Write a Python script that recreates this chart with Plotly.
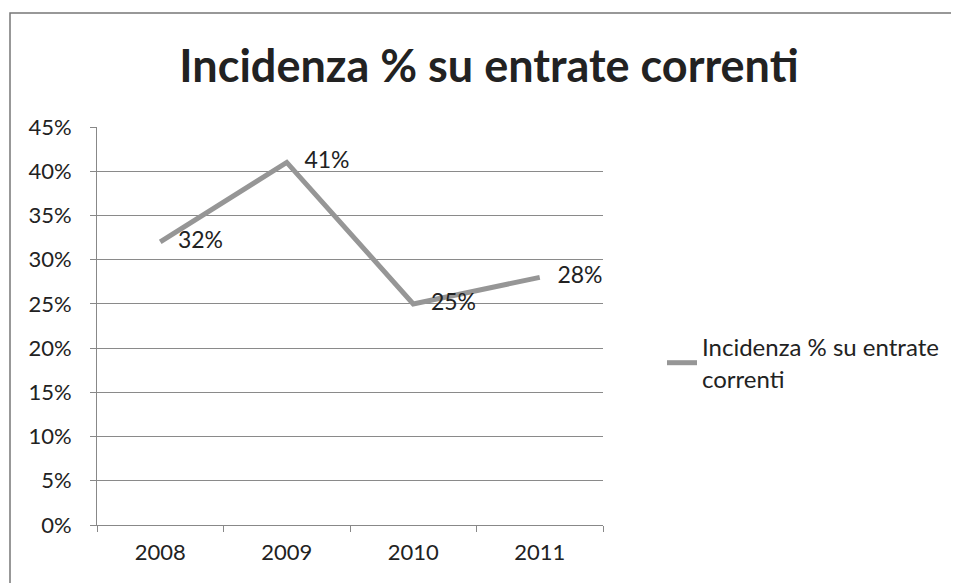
import plotly.graph_objects as go

years = ["2008", "2009", "2010", "2011"]
values = [0.32, 0.41, 0.25, 0.28]
labels = ["   32%", "   41%", "   25%", "   28%"]
series_name = "Incidenza % su entrate<br>correnti"
title_text = "<b>Incidenza % su entrate correnti</b>"

W, H = 959, 583
OFF = 8  # page body margin offset
# target screen pixel positions of the plot area
SL, SR, ST, SB = 97, 603, 127, 525
L = SL - OFF
T = ST - OFF
R = W - (SR - OFF)
B = H - (SB - OFF)

fig = go.Figure()
fig.add_trace(go.Scatter(
    x=years, y=values, mode="lines+text", name=series_name,
    text=labels, textposition="middle right",
    textfont=dict(size=23, color="#222"),
    line=dict(color="#969696", width=5),
    cliponaxis=False,
))

pw = SR - SL
ph = SB - ST
def px_x(p):
    return (p - SL) / pw
def px_y(p):
    return (SB - p) / ph

fig.update_layout(
    width=W, height=H,
    margin=dict(l=L, r=R, t=T, b=B),
    paper_bgcolor="white", plot_bgcolor="white",
    font=dict(family="Lato, 'Noto Sans', sans-serif", color="#222"),
    title=dict(text=title_text, x=(489 - OFF) / W, xanchor="center", y=1 - (66 - OFF) / H, yanchor="middle",
               font=dict(size=45, color="#222")),
    showlegend=True,
    legend=dict(x=px_x(662), y=px_y(325), xanchor="left", yanchor="top",
                font=dict(size=24, color="#222"), bgcolor="rgba(0,0,0,0)",
                itemwidth=30, tracegroupgap=0),
    xaxis=dict(type="category", range=[-0.5, 3.5], showgrid=False,
               showline=True, linecolor="#888", linewidth=1,
               ticks="outside", tickson="boundaries", ticklen=6, tickcolor="#888",
               ticklabelstandoff=8,
               tickfont=dict(size=22, color="#222")),
    yaxis=dict(range=[0, 0.45], dtick=0.05, tickformat=".0%",
               showgrid=True, gridcolor="#8a8a8a", gridwidth=1,
               showline=True, linecolor="#888", linewidth=1,
               ticks="outside", ticklen=6, tickcolor="#888",
               ticklabelstandoff=14,
               zeroline=False,
               tickfont=dict(size=22, color="#222")),
    shapes=[dict(type="rect", xref="paper", yref="paper",
                 x0=px_x(10), x1=px_x(985), y0=px_y(610), y1=px_y(13),
                 line=dict(color="#777", width=1.5), fillcolor="rgba(0,0,0,0)", layer="below")],
)

fig.write_html("out.html")
